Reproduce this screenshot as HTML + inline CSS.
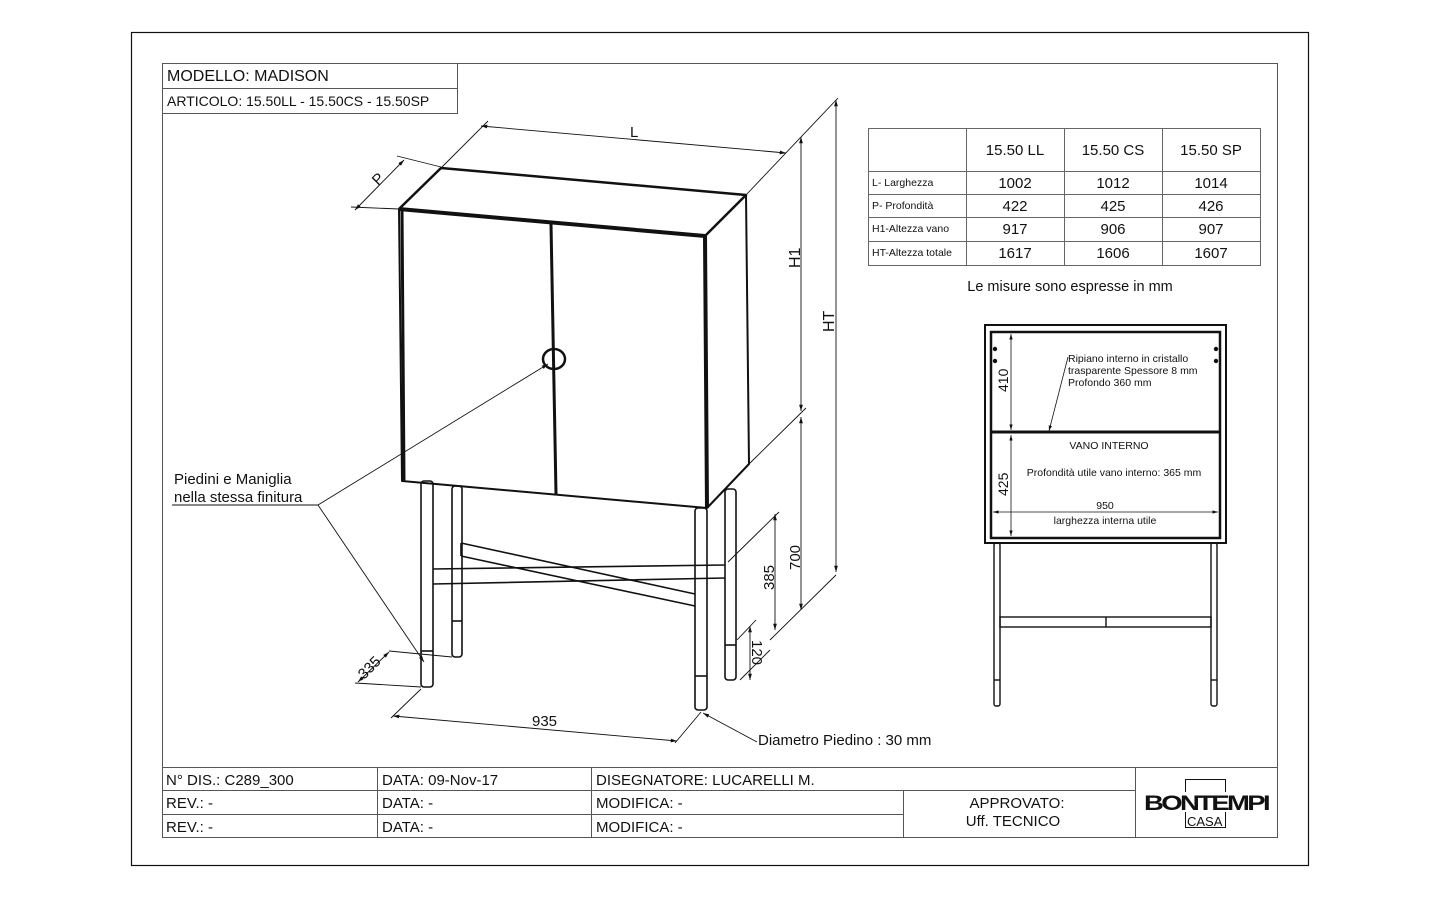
<!DOCTYPE html>
<html><head><meta charset="utf-8"><style>
html,body{margin:0;padding:0;background:#fff}
svg{display:block}
text{font-family:"Liberation Sans",sans-serif;fill:#111}
</style></head><body>
<svg width="1440" height="900" viewBox="0 0 1440 900" xmlns="http://www.w3.org/2000/svg">
<defs>
<marker id="a" viewBox="0 0 10 10" refX="10" refY="5" markerWidth="7" markerHeight="7" orient="auto-start-reverse"><path d="M0,2 L10,5 L0,8 z" fill="#111"/></marker>
</defs>
<rect width="1440" height="900" fill="#fff"/>
<rect x="131.5" y="32.5" width="1177" height="833" fill="none" stroke="#111" stroke-width="1.2"/>
<rect x="162.5" y="63.5" width="1115" height="774" fill="none" stroke="#555" stroke-width="1"/>
<g stroke="#555" fill="none"><rect x="162.5" y="63.5" width="295" height="50"/><line x1="162" y1="88.5" x2="457" y2="88.5"/></g>
<text x="167" y="81" font-size="16">MODELLO: MADISON</text>
<text x="167" y="106" font-size="14">ARTICOLO: 15.50LL - 15.50CS - 15.50SP</text>

<g stroke="#111" fill="none" stroke-linejoin="round">
<path d="M399,209 L441,168 L746,195 L705,236" stroke-width="2.5"/>
<path d="M399,209 L705,236" stroke-width="4"/>
<path d="M399,209 L402,481 L707,508 L705,236" stroke-width="2"/>
<path d="M402,209 L404,481" stroke-width="3"/>
<path d="M705,236 L707,508" stroke-width="4"/>
<path d="M707,508 L749,464 L746,195" stroke-width="2"/>
<path d="M551,224 L556,494" stroke-width="3"/>
<ellipse cx="554" cy="359" rx="11" ry="10" stroke-width="2.5"/>
<g stroke-width="1.6">
<rect x="421" y="481" width="12" height="206" rx="3"/><line x1="421" y1="651" x2="433" y2="651"/>
<rect x="452" y="486" width="10" height="171" rx="3"/><line x1="452" y1="621" x2="462" y2="621"/>
<rect x="695" y="508" width="12" height="202" rx="3"/><line x1="695" y1="676" x2="707" y2="676"/>
<rect x="725" y="489" width="11" height="191" rx="3"/><line x1="725" y1="645" x2="736" y2="645"/>
<path d="M433,569 L725,565 M433,584 L725,578"/>
<path d="M461,543 L695,594 M461,556 L695,606 M461,543 L461,556"/>
</g>
</g>
<g stroke="#111" stroke-width="0.9" fill="none">
<line x1="441" y1="168" x2="488" y2="121"/>
<line x1="746" y1="195" x2="838" y2="98"/>
<line x1="481" y1="126" x2="786" y2="153" marker-start="url(#a)" marker-end="url(#a)"/>
<line x1="399" y1="209" x2="351" y2="207"/>
<line x1="441" y1="167" x2="397" y2="156"/>
<line x1="355" y1="210" x2="404" y2="160" marker-start="url(#a)" marker-end="url(#a)"/>
<line x1="801" y1="137" x2="801" y2="411" marker-start="url(#a)" marker-end="url(#a)"/>
<line x1="836" y1="100" x2="836" y2="572" marker-start="url(#a)" marker-end="url(#a)"/>
<line x1="801" y1="417" x2="801" y2="610" marker-start="url(#a)" marker-end="url(#a)"/>
<line x1="775" y1="514" x2="775" y2="630" marker-start="url(#a)" marker-end="url(#a)"/>
<line x1="750" y1="626" x2="750" y2="680" marker-start="url(#a)" marker-end="url(#a)"/>
<line x1="749" y1="464" x2="806" y2="408"/>
<line x1="836" y1="575" x2="770" y2="640"/>
<line x1="779" y1="512" x2="728" y2="562"/>
<line x1="756" y1="620" x2="737" y2="640"/>
<line x1="740" y1="680" x2="770" y2="650"/>
<line x1="393" y1="716" x2="677" y2="741" marker-start="url(#a)" marker-end="url(#a)"/>
<line x1="421" y1="689" x2="391" y2="718"/>
<line x1="701" y1="712" x2="675" y2="743"/>
<line x1="389" y1="651" x2="452" y2="657"/>
<line x1="355" y1="683" x2="421" y2="687"/>
<line x1="358" y1="682" x2="389" y2="652" marker-start="url(#a)" marker-end="url(#a)"/>
<line x1="318" y1="505" x2="548" y2="364" marker-end="url(#a)"/>
<line x1="318" y1="505" x2="424" y2="662" marker-end="url(#a)"/>
<line x1="757" y1="742" x2="703" y2="713" marker-end="url(#a)"/>
<line x1="172" y1="505" x2="318" y2="505"/>
</g>
<text x="630" y="137" font-size="15">L</text>
<text x="0" y="0" font-size="15" transform="translate(378,186) rotate(-45)">P</text>
<text x="0" y="0" font-size="16" transform="translate(800,268) rotate(-90)">H1</text>
<text x="0" y="0" font-size="16" transform="translate(834,332) rotate(-90)">HT</text>
<text x="0" y="0" font-size="15" transform="translate(800,570) rotate(-90)">700</text>
<text x="0" y="0" font-size="15" transform="translate(774,590) rotate(-90)">385</text>
<text x="0" y="0" font-size="15" transform="translate(752,640) rotate(90)">120</text>
<text x="0" y="0" font-size="15" transform="translate(364,680) rotate(-45)">335</text>
<text x="532" y="726" font-size="15">935</text>
<text x="174" y="484" font-size="15">Piedini e Maniglia</text>
<text x="174" y="502" font-size="15">nella stessa finitura</text>
<text x="758" y="745" font-size="15">Diametro Piedino : 30 mm</text>

<g stroke="#666" stroke-width="1" fill="none">
<rect x="868.5" y="128.5" width="392" height="137"/>
<line x1="966.5" y1="128" x2="966.5" y2="265"/><line x1="1064.5" y1="128" x2="1064.5" y2="265"/><line x1="1162.5" y1="128" x2="1162.5" y2="265"/>
<line x1="868" y1="171.5" x2="1260" y2="171.5"/><line x1="868" y1="194.5" x2="1260" y2="194.5"/><line x1="868" y1="217.5" x2="1260" y2="217.5"/><line x1="868" y1="241.5" x2="1260" y2="241.5"/>
</g>
<g font-size="15" text-anchor="middle">
<text x="1015" y="155">15.50 LL</text><text x="1113" y="155">15.50 CS</text><text x="1211" y="155">15.50 SP</text>
<text x="1015" y="188">1002</text><text x="1113" y="188">1012</text><text x="1211" y="188">1014</text>
<text x="1015" y="211">422</text><text x="1113" y="211">425</text><text x="1211" y="211">426</text>
<text x="1015" y="234">917</text><text x="1113" y="234">906</text><text x="1211" y="234">907</text>
<text x="1015" y="258">1617</text><text x="1113" y="258">1606</text><text x="1211" y="258">1607</text>
</g>
<g font-size="10.5">
<text x="872" y="186">L- Larghezza</text><text x="872" y="209">P- Profondità</text><text x="872" y="232">H1-Altezza vano</text><text x="872" y="256">HT-Altezza totale</text>
</g>
<text x="1070" y="291" font-size="14.5" text-anchor="middle">Le misure sono espresse in mm</text>

<g stroke="#111" fill="none">
<rect x="985" y="325" width="241" height="218" stroke-width="2"/>
<rect x="991" y="332" width="229" height="206" stroke-width="2.5"/>
<line x1="991" y1="432" x2="1220" y2="432" stroke-width="3"/>
<g stroke-width="1.4">
<rect x="994" y="543" width="6" height="163" rx="2"/><line x1="994" y1="680" x2="1000" y2="680"/>
<rect x="1211" y="543" width="6" height="163" rx="2"/><line x1="1211" y1="680" x2="1217" y2="680"/>
<rect x="1000" y="617" width="211" height="10"/><line x1="1106" y1="617" x2="1106" y2="627"/>
</g>
<g stroke-width="0.8">
<line x1="1011" y1="334" x2="1011" y2="430" marker-start="url(#a)" marker-end="url(#a)"/>
<line x1="1011" y1="435" x2="1011" y2="536" marker-start="url(#a)" marker-end="url(#a)"/>
<line x1="993" y1="512" x2="1218" y2="512" marker-start="url(#a)" marker-end="url(#a)"/>
<line x1="1068" y1="357" x2="1049" y2="431" marker-end="url(#a)"/>
</g>
</g>
<g fill="#111"><circle cx="995" cy="349" r="2.2"/><circle cx="995" cy="361" r="2.2"/><circle cx="1216" cy="349" r="2.2"/><circle cx="1216" cy="361" r="2.2"/></g>
<text x="0" y="0" font-size="14" transform="translate(1008,392) rotate(-90)">410</text>
<text x="0" y="0" font-size="14" transform="translate(1008,496) rotate(-90)">425</text>
<g font-size="10.5">
<text x="1068" y="362">Ripiano interno in cristallo</text>
<text x="1068" y="374">trasparente Spessore 8 mm</text>
<text x="1068" y="386">Profondo 360 mm</text>
<text x="1109" y="449" text-anchor="middle">VANO INTERNO</text>
<text x="1114" y="476" text-anchor="middle">Profondità utile vano interno: 365 mm</text>
<text x="1105" y="509" text-anchor="middle">950</text>
<text x="1105" y="524" text-anchor="middle">larghezza interna utile</text>
</g>

<g stroke="#555" stroke-width="1" fill="none">
<line x1="162" y1="767.5" x2="1277" y2="767.5"/>
<line x1="162" y1="790.5" x2="1135" y2="790.5"/>
<line x1="162" y1="814.5" x2="903" y2="814.5"/>
<line x1="377.5" y1="767" x2="377.5" y2="837"/>
<line x1="591.5" y1="767" x2="591.5" y2="837"/>
<line x1="903.5" y1="790" x2="903.5" y2="837"/>
<line x1="1135.5" y1="767" x2="1135.5" y2="837"/>
</g>
<g font-size="15">
<text x="166" y="785">N° DIS.: C289_300</text><text x="382" y="785">DATA: 09-Nov-17</text><text x="596" y="785">DISEGNATORE: LUCARELLI M.</text>
<text x="166" y="808">REV.: -</text><text x="382" y="808">DATA: -</text><text x="596" y="808">MODIFICA: -</text>
<text x="166" y="832">REV.: -</text><text x="382" y="832">DATA: -</text><text x="596" y="832">MODIFICA: -</text>
<text x="1017" y="808" text-anchor="middle">APPROVATO:</text>
<text x="1013" y="826" text-anchor="middle">Uff. TECNICO</text>
</g>
<g>
<rect x="1185.5" y="779.5" width="40" height="48" fill="none" stroke="#111" stroke-width="1"/>
<rect x="1144" y="792" width="124" height="20" fill="#fff"/>
<text x="1144" y="810" font-size="21" font-weight="bold" letter-spacing="-2" textLength="124" lengthAdjust="spacingAndGlyphs">BONTEMPI</text>
<text x="1187" y="826" font-size="13">CASA</text>
</g>
</svg>
</body></html>
